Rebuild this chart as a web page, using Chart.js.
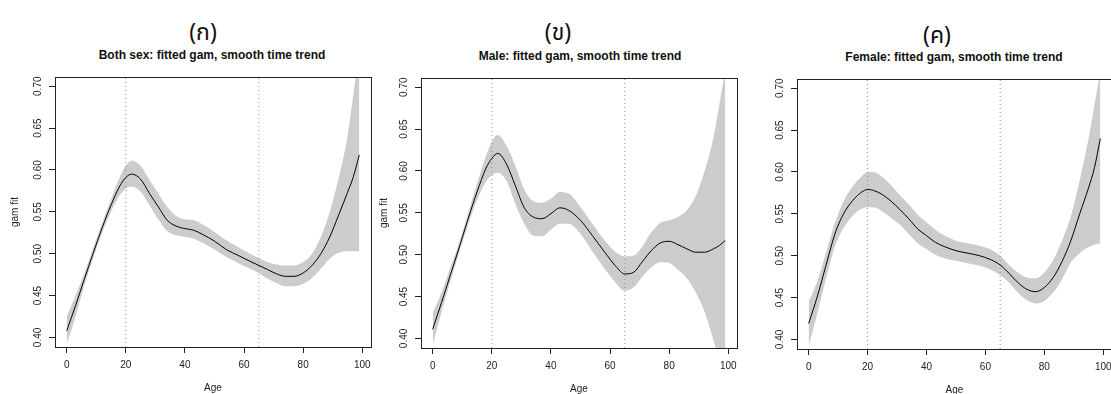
<!DOCTYPE html>
<html>
<head>
<meta charset="utf-8">
<script src="https://cdn.jsdelivr.net/npm/chart.js@4.4.0/dist/chart.umd.min.js"></script>
<style>
  html, body { margin: 0; padding: 0; background: #fff; overflow: hidden; }
  body { width: 1111px; height: 394px; position: relative; }
  canvas { position: absolute; top: 0; }
  .tag { position: absolute; font-family: "Noto Sans Thai", "Noto Sans", "DejaVu Sans", sans-serif; font-size: 23px; line-height: 1; transform: translate(-50%, -50%); color: #111; white-space: nowrap; }
  .main { position: absolute; font-family: "Liberation Sans", Arial, sans-serif; font-weight: bold; font-size: 12px; line-height: 1; transform: translate(-50%, -50%); color: #111; white-space: nowrap; }
</style>
</head>
<body>
<div class="tag" style="left:203px;top:33px">(ก)</div>
<div class="main" style="left:212px;top:55px">Both sex: fitted gam, smooth time trend</div>
<div class="tag" style="left:558px;top:33px">(ข)</div>
<div class="main" style="left:580px;top:56px">Male: fitted gam, smooth time trend</div>
<div class="tag" style="left:937px;top:36px">(ค)</div>
<div class="main" style="left:954px;top:57px">Female: fitted gam, smooth time trend</div>
<canvas id="c1"></canvas>
<canvas id="c2"></canvas>
<canvas id="c3"></canvas>
<script>
const ages = [0, 3, 6, 9, 12, 15, 18, 20, 22, 25, 28, 31, 34, 37, 40, 43, 46, 50, 54, 58, 62, 65, 68, 71, 74, 77, 80, 83, 86, 89, 92, 95, 97, 99];

const bothFit   = [0.408, 0.438, 0.470, 0.501, 0.531, 0.558, 0.581, 0.591, 0.595, 0.589, 0.572, 0.556, 0.540, 0.533, 0.530, 0.528, 0.523, 0.515, 0.505, 0.498, 0.491, 0.486, 0.481, 0.476, 0.473, 0.473, 0.477, 0.486, 0.500, 0.520, 0.546, 0.573, 0.592, 0.618];
const bothUpper = [0.425, 0.450, 0.477, 0.507, 0.537, 0.565, 0.592, 0.605, 0.611, 0.605, 0.588, 0.572, 0.556, 0.545, 0.541, 0.540, 0.535, 0.526, 0.516, 0.508, 0.500, 0.495, 0.490, 0.487, 0.486, 0.486, 0.490, 0.500, 0.520, 0.550, 0.590, 0.640, 0.690, 0.745];
const bothLower = [0.392, 0.425, 0.463, 0.495, 0.525, 0.550, 0.570, 0.578, 0.580, 0.574, 0.558, 0.541, 0.527, 0.522, 0.520, 0.518, 0.513, 0.505, 0.496, 0.489, 0.482, 0.477, 0.470, 0.465, 0.461, 0.461, 0.464, 0.471, 0.482, 0.494, 0.501, 0.503, 0.503, 0.503];

const maleFit   = [0.411, 0.443, 0.476, 0.509, 0.543, 0.575, 0.603, 0.615, 0.621, 0.608, 0.582, 0.556, 0.545, 0.543, 0.549, 0.556, 0.553, 0.541, 0.523, 0.504, 0.486, 0.477, 0.479, 0.492, 0.505, 0.514, 0.516, 0.512, 0.507, 0.503, 0.503, 0.507, 0.511, 0.517];
const maleUpper = [0.430, 0.455, 0.485, 0.515, 0.550, 0.585, 0.618, 0.635, 0.643, 0.630, 0.606, 0.578, 0.564, 0.562, 0.567, 0.575, 0.573, 0.557, 0.537, 0.518, 0.503, 0.498, 0.499, 0.510, 0.527, 0.538, 0.541, 0.545, 0.553, 0.570, 0.600, 0.640, 0.680, 0.720];
const maleLower = [0.392, 0.432, 0.468, 0.503, 0.536, 0.565, 0.587, 0.595, 0.598, 0.588, 0.560, 0.537, 0.523, 0.522, 0.530, 0.537, 0.537, 0.525, 0.504, 0.484, 0.466, 0.457, 0.461, 0.474, 0.485, 0.491, 0.490, 0.482, 0.472, 0.455, 0.432, 0.398, 0.375, 0.350];

const femaleFit   = [0.419, 0.452, 0.490, 0.527, 0.551, 0.566, 0.576, 0.579, 0.578, 0.573, 0.565, 0.555, 0.544, 0.532, 0.524, 0.516, 0.511, 0.506, 0.503, 0.500, 0.495, 0.489, 0.479, 0.468, 0.460, 0.457, 0.462, 0.474, 0.493, 0.518, 0.550, 0.581, 0.605, 0.640];
const femaleUpper = [0.445, 0.470, 0.505, 0.540, 0.566, 0.583, 0.595, 0.600, 0.600, 0.594, 0.584, 0.572, 0.561, 0.549, 0.540, 0.531, 0.524, 0.518, 0.515, 0.512, 0.507, 0.500, 0.489, 0.480, 0.474, 0.473, 0.480, 0.495, 0.518, 0.547, 0.590, 0.640, 0.680, 0.720];
const femaleLower = [0.392, 0.432, 0.474, 0.512, 0.534, 0.548, 0.556, 0.558, 0.558, 0.553, 0.545, 0.537, 0.526, 0.515, 0.508, 0.501, 0.497, 0.494, 0.491, 0.488, 0.483, 0.477, 0.468, 0.456, 0.447, 0.443, 0.446, 0.456, 0.472, 0.492, 0.503, 0.510, 0.513, 0.515];

const refAges = [20, 65];
const xTicks = [0, 20, 40, 60, 80, 100];
const yTicks = [0.40, 0.45, 0.50, 0.55, 0.60, 0.65, 0.70];

const X_MIN = -3.96, X_MAX = 102.96;
const Y_MIN = 0.3886, Y_MAX = 0.7110;

// where each panel's plot box sits on the page
const panels = [
  { id: 'c1', left: 0,   box: { l: 55,  t: 77, r: 371,  b: 347 }, yTitleX: 15,   fit: bothFit,   up: bothUpper,   lo: bothLower },
  { id: 'c2', left: 375, box: { l: 421, t: 78, r: 737,  b: 348 }, yTitleX: 384,  fit: maleFit,   up: maleUpper,   lo: maleLower },
  { id: 'c3', left: 745, box: { l: 797, t: 79, r: 1112, b: 349 }, yTitleX: null, fit: femaleFit, up: femaleUpper, lo: femaleLower }
];

Chart.defaults.font.family = '"Liberation Sans", Arial, sans-serif';
Chart.defaults.font.size = 10;
Chart.defaults.color = '#222';

const INK = '#222';
const X_AXIS_H = 47;
const CANVAS_H = 400;

// R draws a full box round the plot region
const boxPlugin = {
  id: 'rbox',
  afterDraw(chart) {
    const a = chart.chartArea;
    const ctx = chart.ctx;
    ctx.save();
    ctx.strokeStyle = INK;
    ctx.lineWidth = 1;
    ctx.strokeRect(a.left + 0.5, a.top + 0.5, a.right - a.left, a.bottom - a.top);
    ctx.restore();
  }
};

const toPoints = (vals) => ages.map((a, i) => ({ x: a, y: vals[i] }));

panels.forEach(p => {
  const canvas = document.getElementById(p.id);
  const w = p.box.r + 12 - p.left;
  canvas.width = w;
  canvas.height = CANVAS_H;
  canvas.style.left = p.left + 'px';

  const refSets = refAges.map(a => ({
    data: [{ x: a, y: Y_MIN }, { x: a, y: Y_MAX }],
    borderColor: '#8c8c8c',
    borderWidth: 1,
    borderDash: [1, 3],
    pointRadius: 0,
    fill: false,
    order: 1
  }));

  new Chart(canvas, {
    type: 'line',
    data: {
      datasets: [
        {
          data: toPoints(p.fit),
          borderColor: '#000',
          borderWidth: 1,
          pointRadius: 0,
          cubicInterpolationMode: 'monotone',
          fill: false,
          order: 0
        },
        ...refSets,
        {
          data: toPoints(p.up),
          borderColor: 'rgba(0,0,0,0)',
          borderWidth: 0,
          backgroundColor: '#cccccc',
          pointRadius: 0,
          cubicInterpolationMode: 'monotone',
          fill: '+1',
          order: 2
        },
        {
          data: toPoints(p.lo),
          borderColor: 'rgba(0,0,0,0)',
          borderWidth: 0,
          pointRadius: 0,
          cubicInterpolationMode: 'monotone',
          fill: false,
          order: 2
        }
      ]
    },
    options: {
      responsive: false,
      animation: false,
      events: [],
      layout: {
        padding: {
          left: 0,
          top: p.box.t,
          right: p.left + w - p.box.r,
          bottom: CANVAS_H - p.box.b - X_AXIS_H
        }
      },
      plugins: { legend: { display: false }, tooltip: { enabled: false } },
      scales: {
        x: {
          type: 'linear',
          min: X_MIN,
          max: X_MAX,
          afterBuildTicks: (s) => { s.ticks = xTicks.map(v => ({ value: v })); },
          afterFit: (s) => { s.height = X_AXIS_H; },
          grid: { drawOnChartArea: false, drawTicks: true, tickLength: 6, color: INK },
          border: { display: true, color: INK, width: 1 },
          ticks: { padding: 6, color: INK, callback: (v) => String(v) },
          title: { display: true, text: 'Age', color: INK, font: { size: 10 }, padding: { top: 0, bottom: 0 } }
        },
        y: {
          type: 'linear',
          min: Y_MIN,
          max: Y_MAX,
          afterBuildTicks: (s) => { s.ticks = yTicks.map(v => ({ value: v })); },
          afterFit: (s) => { s.width = p.box.l - p.left; },
          grid: { drawOnChartArea: false, drawTicks: true, tickLength: 6, color: INK },
          border: { display: true, color: INK, width: 1 },
          ticks: {
            padding: 1.3,
            color: INK,
            minRotation: 90,
            maxRotation: 90,
            crossAlign: 'center',
            callback: (v) => Number(v).toFixed(2)
          },
          title: {
            display: p.yTitleX !== null,
            text: 'gam fit',
            color: INK,
            font: { size: 10 },
            padding: { top: p.yTitleX === null ? 0 : p.yTitleX - p.left - 6, bottom: 0 }
          }
        }
      }
    },
    plugins: [boxPlugin]
  });
});
</script>
</body>
</html>
